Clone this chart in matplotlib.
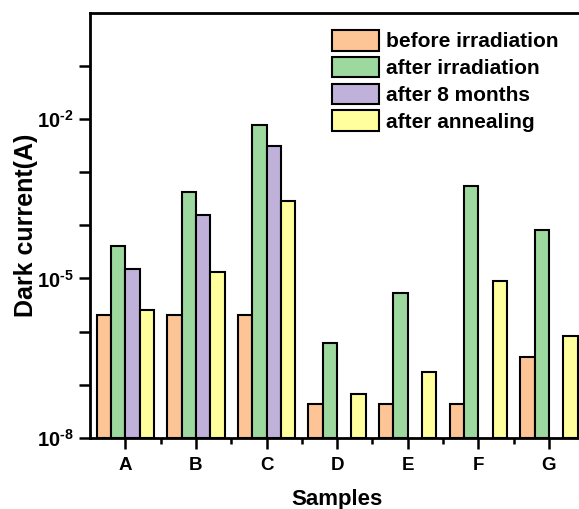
import numpy as np
import matplotlib
matplotlib.use("Agg")
import matplotlib.pyplot as plt
from matplotlib.ticker import NullFormatter, FixedLocator

plt.rcParams['font.family'] = ['Liberation Sans', 'DejaVu Sans']
plt.rcParams['font.weight'] = 'bold'
plt.rcParams['mathtext.fontset'] = 'custom'
plt.rcParams['mathtext.rm'] = 'Liberation Sans:bold'
plt.rcParams['mathtext.bf'] = 'Liberation Sans:bold'
plt.rcParams['mathtext.default'] = 'bf'

samples = ["A", "B", "C", "D", "E", "F", "G"]
series_names = ["before irradiation", "after irradiation", "after 8 months", "after annealing"]
before_irr = [2.0e-6, 2.0e-6, 2.0e-6, 3.3e-8, 3.3e-8, 3.3e-8, 3.2e-7]
after_irr = [4.0e-5, 4.3e-4, 7.9e-3, 6.0e-7, 5.4e-6, 5.4e-4, 8.3e-5]
after_8m = [1.5e-5, 1.6e-4, 3.1e-3, np.nan, np.nan, np.nan, np.nan]
after_ann = [2.5e-6, 1.3e-5, 2.9e-4, 5.7e-8, 1.6e-7, 9.0e-6, 8.0e-7]
colors = ["#FDC596", "#9DD89E", "#C0B1DA", "#FFFF9E"]
ytick_vals = [1e-8, 1e-5, 1e-2]
ytick_exps = [8, 5, 2]

W, H = 579, 509
fig = plt.figure(figsize=(W / 100, H / 100), dpi=100)
ax = fig.add_axes([90 / W, 1 - 437.7 / H, (584.3 - 90) / W, (437.7 - 13) / H])

x = np.arange(len(samples))
w = 0.203
for i, (vals, name, c) in enumerate(zip([before_irr, after_irr, after_8m, after_ann], series_names, colors)):
    ax.bar(x + (i - 1.5) * w, vals, width=w, bottom=1e-8, color=c,
           edgecolor="black", linewidth=1.5, label=name)

ax.set_yscale("log")
ax.set_ylim(1e-8, 1e0)
ax.set_xlim(-0.5, 6.5)

ax.yaxis.set_major_locator(FixedLocator(ytick_vals))
ax.yaxis.set_minor_locator(FixedLocator([1e-7, 1e-6, 1e-4, 1e-3, 1e-1]))
ax.yaxis.set_minor_formatter(NullFormatter())
hyphen = "\u2010"
ax.set_yticklabels(["$10^{" + hyphen + str(e) + "}$" for e in ytick_exps])

ax.set_xticks(x)
ax.set_xticklabels(samples)
ax.xaxis.set_minor_locator(FixedLocator(x[:-1] + 0.5))

ax.tick_params(axis="y", which="both", direction="out", length=8, width=1.8, labelsize=14.5, pad=4)
ax.tick_params(axis="x", which="major", direction="out", length=8, width=1.8, labelsize=13.5, pad=6)
ax.tick_params(axis="x", which="minor", direction="out", length=4, width=1.8)
for lab in ax.get_xticklabels() + ax.get_yticklabels():
    lab.set_fontweight("bold")

for s in ax.spines.values():
    s.set_linewidth(2)

ax.set_ylabel("Dark current(A)", fontsize=18, fontweight="bold")
ax.yaxis.set_label_coords(-(90 - 26) / (584.3 - 90), 0.5)
ax.yaxis.label.set_va("center")
fig.text(337 / W, 1 - 505 / H, "Samples", fontsize=16, fontweight="bold",
         ha="center", va="baseline")

leg = ax.legend(loc="upper left", bbox_to_anchor=(331.7 / W, 1 - 30 / H),
                bbox_transform=fig.transFigure, frameon=False, fontsize=15,
                handlelength=2.26, handleheight=1.15, labelspacing=0.26,
                handletextpad=0.35, borderpad=0, borderaxespad=0)
for t in leg.get_texts():
    t.set_fontweight("bold")

fig.savefig("out.png", dpi=100)
